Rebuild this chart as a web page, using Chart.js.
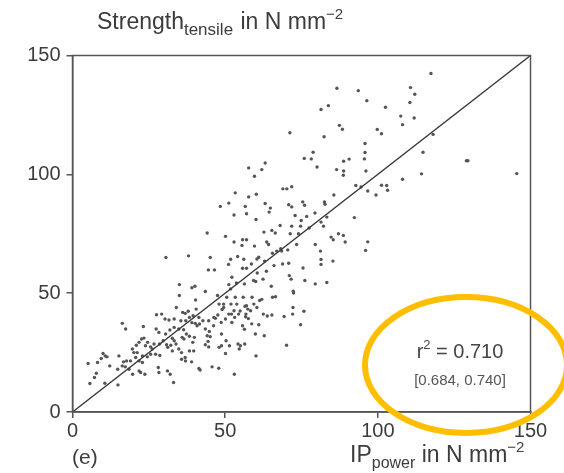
<!DOCTYPE html>
<html>
<head>
<meta charset="utf-8">
<script src="https://cdn.jsdelivr.net/npm/chart.js@4/dist/chart.umd.min.js"></script>
<style>
  html, body { margin: 0; padding: 0; background: #fff; }
  #wrap { width: 564px; height: 473px; }
</style>
</head>
<body>
<div id="wrap"><canvas id="c" width="564" height="473"></canvas></div>
<script>
// IP power (x) and tensile strength (y), both in N mm^-2
const ipPower = [
  117.4,86.6,93.6,110.7,112.1,96.4,110.5,83.8,81.4,102.5,
  107.5,111.9,108.1,87.4,88.4,99.8,101.2,118.1,71.2,82.4,
  95.8,78.8,75.9,78.2,95.8,95.6,90.6,88.8,114.8,129.0,
  129.5,145.5,80.1,86.5,88.8,88.7,96.1,57.7,62.0,63.1,
  59.6,114.3,108.1,101.2,102.9,103.2,92.8,94.5,96.7,99.4,
  68.9,70.2,71.8,53.3,57.7,60.2,85.6,48.4,51.2,56.6,
  63.1,64.8,64.4,70.8,71.8,75.4,76.0,82.5,82.7,92.3,
  52.9,57.0,60.1,68.0,71.8,72.9,76.7,79.4,83.3,74.9,
  74.7,77.5,81.4,82.2,44.1,50.1,52.9,55.7,57.0,55.5,
  59.6,62.7,65.3,66.4,63.6,64.2,71.3,74.0,73.4,70.5,
  68.2,65.5,79.5,84.7,85.4,87.1,88.7,89.3,96.7,96.0,
  81.2,81.4,81.4,85.3,30.6,38.0,45.1,44.5,46.5,51.8,
  54.1,56.1,51.1,55.7,57.0,58.6,60.4,61.0,62.9,63.5,
  60.5,62.4,59.3,60.0,56.3,53.7,51.2,52.2,51.8,66.0,
  66.9,68.5,68.8,70.8,71.0,71.6,72.3,72.4,75.5,76.1,
  79.5,83.3,65.1,65.5,66.5,35.0,39.1,40.1,43.5,35.0,
  47.5,50.5,53.3,55.9,58.8,61.3,62.0,51.9,53.8,56.5,
  57.4,59.4,60.4,56.7,54.9,54.4,53.1,52.2,50.1,48.7,
  47.6,46.8,46.2,48.0,49.5,40.3,34.0,36.1,36.9,37.9,
  40.5,31.6,33.3,35.5,37.1,38.3,39.1,40.2,40.8,41.6,
  42.7,30.3,27.5,29.2,23.2,16.3,17.4,27.4,28.3,30.5,
  31.9,33.3,34.8,36.4,38.3,43.5,44.8,44.1,45.1,48.8,
  50.3,51.4,48.8,48.0,50.1,44.4,43.5,44.6,39.9,39.4,
  33.3,32.2,31.2,29.7,28.5,26.7,24.6,22.6,23.4,21.8,
  20.9,19.6,20.1,23.9,25.6,26.1,27.2,28.6,30.8,32.7,
  34.8,35.7,38.3,39.7,36.9,35.7,37.0,39.0,25.6,24.5,
  22.9,21.2,20.7,21.8,22.9,19.0,17.7,16.7,15.2,16.3,
  14.8,12.2,10.7,10.0,11.3,9.4,8.2,5.1,7.8,7.2,
  10.6,5.7,14.9,17.3,18.5,19.7,21.8,22.3,23.7,28.1,
  28.3,31.1,32.0,33.1,41.4,41.8,45.7,47.9,53.0,35.9,
  36.5,32.7,33.9,37.3,54.2,55.0,56.4,54.6,55.7,56.3,
  59.9,60.1,62.8,61.0,62.5,63.8,65.3,69.3,72.2,72.1,
  74.7,75.8,70.1,58.7,57.6,56.8,57.0,58.3,52.9,52.1,
  51.2,49.5,49.0,41.4,39.5,44.6,46.3
];
const strengthTensile = [
  142.4,136.2,135.2,136.5,133.7,131.0,130.2,128.9,127.3,128.2,
  124.5,123.7,120.9,120.6,119.0,118.9,117.1,116.8,117.5,115.8,
  113.0,109.3,106.7,106.5,109.2,106.5,106.4,105.5,109.3,105.7,
  105.7,100.3,103.1,102.0,101.4,99.6,101.4,102.7,102.0,104.8,
  99.2,100.2,97.9,95.4,95.3,93.3,95.3,94.7,93.0,91.3,
  93.9,93.9,94.8,92.2,90.5,91.6,91.3,86.5,87.9,86.5,
  87.7,85.8,84.1,87.2,86.3,88.4,87.0,88.4,87.4,81.8,
  82.9,83.4,81.0,78.5,78.2,82.7,82.3,83.7,82.0,80.6,
  78.2,77.4,79.9,78.2,75.3,73.9,71.5,72.5,72.5,70.1,
  69.8,75.7,76.4,75.3,71.5,70.5,75.0,75.0,70.5,68.2,
  68.7,66.8,70.5,73.6,72.5,75.0,74.3,71.5,71.6,68.0,
  67.7,64.2,62.1,63.5,65.0,65.7,65.0,59.8,59.8,64.3,
  65.4,64.3,62.1,60.5,60.5,62.3,64.4,65.1,63.5,59.2,
  58.5,55.9,55.3,54.9,53.9,54.3,53.6,56.7,51.8,61.6,
  67.7,67.7,62.3,62.6,57.4,55.9,50.8,50.1,60.6,55.3,
  53.9,54.5,52.9,48.3,48.5,53.6,52.3,52.9,50.7,49.0,
  49.0,48.3,48.3,48.3,48.3,46.9,47.4,45.4,45.4,44.5,
  43.3,45.4,44.0,40.1,42.5,41.2,39.8,37.7,39.1,37.7,
  40.8,39.4,36.3,45.4,45.4,47.1,44.0,41.9,41.5,42.4,
  43.3,38.7,39.1,38.4,38.4,39.8,37.6,37.3,36.3,37.0,
  38.4,39.1,40.9,41.2,36.0,37.3,34.9,34.9,33.5,32.8,
  34.5,35.6,34.9,34.6,31.9,34.9,33.9,32.1,31.7,32.8,
  30.0,27.9,27.9,27.2,24.6,29.7,28.3,27.4,31.4,29.3,
  30.0,28.1,27.2,30.0,28.6,28.6,29.3,30.7,31.1,29.3,
  28.1,26.5,25.0,27.9,27.4,26.5,24.3,23.8,28.3,25.7,
  26.5,25.0,25.7,25.7,22.9,22.2,21.5,21.1,24.3,23.2,
  23.6,25.0,22.9,21.5,20.8,21.5,21.5,21.1,23.6,19.4,
  18.0,19.4,23.6,24.6,23.2,22.5,20.8,20.4,16.3,14.5,
  12.1,12.0,11.4,19.0,18.0,15.9,17.3,16.6,15.9,18.7,
  16.6,17.3,15.9,12.4,18.3,17.7,19.0,18.4,15.9,31.4,
  30.7,31.0,28.6,32.8,28.6,27.9,28.6,26.5,36.3,34.8,
  32.8,23.6,32.1,36.7,41.2,40.4,40.8,40.2,44.0,41.2,
  36.7,42.4,28.1,37.1,39.3,41.2,44.7,42.6,42.6,41.2,
  41.2,44.0,43.1,39.8,40.5,38.4,39.8
];
// 1:1 reference line endpoints
const identityLine = [0, 150];
// axis tick values (same on both axes)
const axisTicks = [0, 50, 100, 150];
// coefficient of determination and its interval
const rSquared = '0.710';
const rSquaredInterval = ['0.684', '0.740'];

const FONT = '"Liberation Sans", Arial, Helvetica, sans-serif';
const points = ipPower.map((x, i) => ({ x: x, y: strengthTensile[i] }));

// draws a run of text pieces (normal / sub / superscript) left to right
function drawPieces(ctx, x, y, pieces, color) {
  ctx.save();
  ctx.fillStyle = color;
  ctx.textBaseline = 'alphabetic';
  ctx.textAlign = 'left';
  let cx = x;
  for (const p of pieces) {
    ctx.font = p.size + 'px ' + FONT;
    ctx.fillText(p.t, cx, y + (p.dy || 0));
    cx += ctx.measureText(p.t).width + (p.gap || 0);
  }
  ctx.restore();
}
function piecesWidth(ctx, pieces) {
  let w = 0;
  for (const p of pieces) { ctx.font = p.size + 'px ' + FONT; w += ctx.measureText(p.t).width + (p.gap || 0); }
  return w;
}

const decorations = {
  id: 'decorations',
  afterDatasetsDraw(chart) {
    const { ctx, chartArea: a } = chart;
    // plot frame
    ctx.save();
    ctx.strokeStyle = '#555';
    ctx.lineWidth = 1.5;
    ctx.strokeRect(a.left, a.top, a.right - a.left, a.bottom - a.top);
    ctx.restore();
  },
  afterDraw(chart) {
    const { ctx } = chart;
    const textCol = '#3c3c3c';
    // y axis title
    drawPieces(ctx, 97, 29, [
      { t: 'Strength', size: 23 },
      { t: 'tensile', size: 17, dy: 6, gap: 1 },
      { t: ' in N mm', size: 23 },
      { t: '\u22122', size: 15, dy: -10 }
    ], textCol);
    // x axis title
    drawPieces(ctx, 350, 462, [
      { t: 'IP', size: 23 },
      { t: 'power', size: 16, dy: 6 },
      { t: ' in N mm', size: 23 },
      { t: '\u22122', size: 15, dy: -10 }
    ], textCol);
    // panel letter
    drawPieces(ctx, 72, 464, [{ t: '(e)', size: 21 }], textCol);

    // r² annotation
    const rPieces = [
      { t: 'r', size: 20 },
      { t: '2', size: 13, dy: -9 },
      { t: ' = ' + rSquared, size: 20 }
    ];
    const cxText = 460;
    drawPieces(ctx, cxText - piecesWidth(ctx, rPieces) / 2, 358, rPieces, '#444');
    const ciPieces = [{ t: '[' + rSquaredInterval[0] + ', ' + rSquaredInterval[1] + ']', size: 15 }];
    drawPieces(ctx, cxText - piecesWidth(ctx, ciPieces) / 2, 385, ciPieces, '#555');

    // highlight ring around the annotation
    ctx.save();
    ctx.strokeStyle = '#FFBF00';
    ctx.lineWidth = 6;
    ctx.beginPath();
    ctx.ellipse(466, 365, 101, 68, 0, 0, Math.PI * 2);
    ctx.stroke();
    ctx.restore();
  }
};

const tickFont = { family: FONT, size: 20 };

new Chart(document.getElementById('c'), {
  type: 'scatter',
  data: {
    datasets: [
      {
        type: 'line',
        data: identityLine.map(v => ({ x: v, y: v })),
        borderColor: '#3a3a3a',
        borderWidth: 1.4,
        pointRadius: 0,
        fill: false,
        order: 0
      },
      {
        data: points,
        pointRadius: 1.7,
        pointBackgroundColor: '#555',
        pointBorderWidth: 0,
        order: 1
      }
    ]
  },
  options: {
    responsive: false,
    devicePixelRatio: 1,
    animation: false,
    events: [],
    layout: { padding: { left: 0, top: 55.5, right: 33.5, bottom: 0 } },
    plugins: { legend: { display: false }, tooltip: { enabled: false }, title: { display: false } },
    scales: {
      x: {
        type: 'linear',
        min: axisTicks[0], max: axisTicks[axisTicks.length - 1],
        afterBuildTicks: s => { s.ticks = axisTicks.map(v => ({ value: v })); },
        afterFit: s => { s.height = 61; },
        grid: { display: true, drawOnChartArea: false, drawTicks: true, tickLength: 6, color: '#555', lineWidth: 1.5 },
        border: { display: true, color: '#555', width: 1.5 },
        ticks: { font: tickFont, color: '#3c3c3c', padding: 1, maxRotation: 0 }
      },
      y: {
        type: 'linear',
        min: axisTicks[0], max: axisTicks[axisTicks.length - 1],
        afterBuildTicks: s => { s.ticks = axisTicks.map(v => ({ value: v })); },
        afterFit: s => { s.width = 72.5; },
        grid: { display: true, drawOnChartArea: false, drawTicks: true, tickLength: 6, color: '#555', lineWidth: 1.5 },
        border: { display: true, color: '#555', width: 1.5 },
        ticks: { font: tickFont, color: '#3c3c3c', padding: 6 }
      }
    }
  },
  plugins: [decorations]
});
</script>
</body>
</html>
